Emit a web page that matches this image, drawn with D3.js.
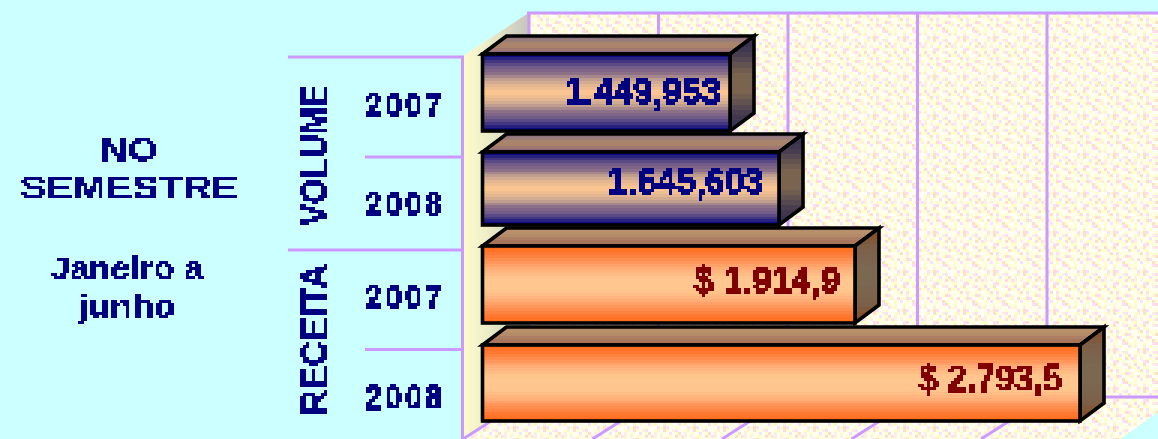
<!DOCTYPE html>
<html><head><meta charset="utf-8">
<script src="https://cdn.jsdelivr.net/npm/d3@7/dist/d3.min.js"></script>
<style>html,body{margin:0;padding:0;background:#ccffff;overflow:hidden}svg{display:block}
text{font-family:"Liberation Sans",Arial,sans-serif;font-weight:bold}</style></head>
<body><svg id="c" width="1158" height="439"></svg>
<script>
const categories=["2007","2008","2007","2008"];
const groups=["VOLUME","VOLUME","RECEITA","RECEITA"];
const values=[1449953,1645603,1914.9,2793.5];
const valueLabels=["1.449,953","1.645,603","$ 1.914,9","$ 2.793,5"];
const gridTicks=[0,1,2,3,4];

const W=1158,H=439,purple="#cc99ff",navy="#000080",maroon="#800000";
const svg=d3.select("#c"),defs=svg.append("defs");

// the chart mixes two measures, each truncated on the shared axis
const xVolume=d3.scaleLinear().domain([1449953,1645603]).range([730,779]);
const xRevenue=d3.scaleLinear().domain([1914.9,2793.5]).range([855,1080]);
const xOf=(v,i)=>groups[i]==="VOLUME"?xVolume(v):xRevenue(v);
const xLeft=482.5,depthX=24,depthY=18;
const y=d3.scaleBand().domain(d3.range(4)).range([53,53+97.4*4]);
const barNudge=[1,1.6,-1.8,-0.2],barHeights=[77,73,77,76];
const xGrid=d3.scaleLinear().domain([0,4]).range([529,1047]);

// dithered wall texture
const tex=["wpywocwwyo","ywwcwypwow","owyywpycow","wcpwywwyyw","ypwwocywpw","wyywwwpyyc","pwcywywwwy","ywowypcyww","wypcwwyowp","cwywpywwyw","wywwcpywyw","wowywwcyow","ypcwwywwwc"];
const texColors={w:"#fffff4",p:"#ffdcd4",y:"#ffffcc",c:"#f9e2f9",o:"#fff0dc"};
const pat=defs.append("pattern").attr("id","tex").attr("patternUnits","userSpaceOnUse")
  .attr("width",30).attr("height",39);
tex.forEach((row,r)=>row.split("").forEach((c,k)=>
  pat.append("rect").attr("x",k*3).attr("y",r*3).attr("width",3).attr("height",3).attr("fill",texColors[c])));

function stepped(id,stops,n){
  const s=d3.scaleLinear().domain(stops.map((_,i)=>i/(stops.length-1))).range(stops);
  const g=defs.append("linearGradient").attr("id",id).attr("x1",0).attr("y1",0).attr("x2",0).attr("y2",1);
  d3.range(n).forEach(i=>{
    const c=s((i+.5)/n);
    g.append("stop").attr("offset",i/n).attr("stop-color",c);
    g.append("stop").attr("offset",(i+1)/n).attr("stop-color",c);
  });
}
stepped("fV",["#000080","#3a3080","#6f5a88","#8c7088","#c4a290","#e8ba90","#ffc890","#e8ba90","#c4a290","#8c7088","#6f5a88","#3a3080","#000080"],26);
stepped("fR",["#ff6a14","#ff7a33","#ff9458","#ffb07a","#ffc48c","#ffc890","#ffc48c","#ffb07a","#ff9458","#ff7a33","#ff6a14"],26);
stepped("sV",["#2c2850","#4a3f50","#7a6450","#7a6450","#4a3f50","#2c2850"],18);
stepped("sR",["#8a4620","#7c6048","#7a6850","#7a6850","#7c6048","#8a4620"],18);
stepped("tV",["#8a7085","#9a7c78","#b08868","#a07870","#7a6088"],6);
stepped("tR",["#b88f6c","#b8906c","#a87860","#a87050"],6);
const side=defs.append("linearGradient").attr("id","wallL").attr("gradientUnits","userSpaceOnUse")
  .attr("x1",463).attr("x2",530).attr("y1",0).attr("y2",0);
[[0,"#fffccc"],[.35,"#eeeec8"],[1,"#c4c4bc"]].forEach(d=>side.append("stop").attr("offset",d[0]).attr("stop-color",d[1]));

// bitmap-like text: sample on a 3px grid, dilate back, harden the edge
const f=defs.append("filter").attr("id","hard").attr("filterUnits","userSpaceOnUse")
  .attr("primitiveUnits","userSpaceOnUse").attr("x",0).attr("y",0).attr("width",W).attr("height",H);
f.append("feFlood").attr("x",1).attr("y",1).attr("width",1).attr("height",1).attr("flood-color","#000");
f.append("feComposite").attr("width",3).attr("height",3);
f.append("feTile").attr("result","grid");
f.append("feComposite").attr("in","SourceGraphic").attr("in2","grid").attr("operator","in");
f.append("feMorphology").attr("operator","dilate").attr("radius",1).attr("result","m");
f.append("feComponentTransfer").attr("in","m").append("feFuncA").attr("type","discrete").attr("tableValues","0 1 1 1");

// wall, floor, side
svg.append("path").attr("d","M530,12H1158V396H530Z").attr("fill","url(#tex)");
svg.append("path").attr("d","M463,439L530,396H1158V412L1120,439Z").attr("fill","url(#tex)");
svg.append("path").attr("d","M463,56L530,12V396L463,439Z").attr("fill","url(#wallL)");

// grid
const grid=svg.append("g").attr("stroke",purple).attr("stroke-width",3).attr("fill","none");
grid.append("line").attr("x1",527).attr("x2",W).attr("y1",13).attr("y2",13);
grid.append("line").attr("x1",530).attr("x2",W).attr("y1",397).attr("y2",397);
grid.selectAll(".v").data(gridTicks).join("line").attr("class","v")
  .attr("x1",d=>xGrid(d)).attr("x2",d=>xGrid(d)).attr("y1",13).attr("y2",397);
grid.selectAll(".d").data(gridTicks).join("line").attr("class","d")
  .attr("x1",d=>xGrid(d)).attr("x2",d=>xGrid(d)-66).attr("y1",397).attr("y2",439);

// panel rules
const rules=svg.append("g").attr("stroke",purple).attr("stroke-width",3);
rules.append("line").attr("x1",288).attr("x2",464).attr("y1",57).attr("y2",57);
rules.append("line").attr("x1",288).attr("x2",464).attr("y1",250).attr("y2",250);
rules.append("line").attr("x1",365).attr("x2",464).attr("y1",157).attr("y2",157);
rules.append("line").attr("x1",365).attr("x2",464).attr("y1",349.5).attr("y2",349.5);
rules.append("line").attr("x1",462.5).attr("x2",462.5).attr("y1",56).attr("y2",H);

// bars
const barTop=i=>y(i)+barNudge[i];
svg.append("g").selectAll("g").data(values).join("g").each(function(v,i){
  const g=d3.select(this),x1=xOf(v,i),y0=barTop(i),y1=y0+barHeights[i],k=groups[i]==="VOLUME"?"V":"R";
  const style=s=>s.attr("stroke","#000").attr("stroke-width",3.6);
  style(g.append("path").attr("d",`M${xLeft},${y0}L${xLeft+depthX},${y0-depthY}H${x1+depthX}L${x1},${y0}Z`).attr("fill",`url(#t${k})`));
  style(g.append("path").attr("d",`M${x1},${y0}L${x1+depthX},${y0-depthY}V${y1-depthY}L${x1},${y1}Z`).attr("fill",`url(#s${k})`));
  style(g.append("rect").attr("x",xLeft).attr("y",y0).attr("width",x1-xLeft).attr("height",barHeights[i]).attr("fill",`url(#f${k})`));
});

// value labels
const labelInset=[9,15,15,18],labelWidth=[156,156,146,143],labelBaseline=[104,194,293,391];
svg.append("g").attr("filter","url(#hard)").selectAll("text").data(values).join("text")
  .attr("x",(v,i)=>xOf(v,i)-labelInset[i]-labelWidth[i]).attr("y",(v,i)=>labelBaseline[i])
  .attr("textLength",(v,i)=>labelWidth[i]).attr("lengthAdjust","spacingAndGlyphs")
  .attr("font-size",36).attr("stroke-width",.7).attr("stroke",(v,i)=>i<2?navy:maroon)
  .attr("fill",(v,i)=>i<2?navy:maroon).text((v,i)=>valueLabels[i]);

// year labels: narrowed glyphs with open spacing
const yearBaseline=[117,216,309,409],yearSqueeze=.82;
svg.append("g").attr("filter","url(#hard)").selectAll("text").data(categories).join("text")
  .attr("transform",(d,i)=>`translate(365,${yearBaseline[i]}) scale(${yearSqueeze},1)`)
  .attr("textLength",77/yearSqueeze).attr("lengthAdjust","spacing").attr("font-size",36)
  .attr("stroke",navy).attr("stroke-width",.5).attr("fill",navy).text(d=>d);

// group labels
const groupNames=["VOLUME","RECEITA"],groupSpan=[[85,226],[264,415]];
svg.append("g").attr("filter","url(#hard)").selectAll("text").data(groupNames).join("text")
  .attr("transform",(d,i)=>`translate(327,${groupSpan[i][1]}) rotate(-90)`)
  .attr("textLength",(d,i)=>groupSpan[i][1]-groupSpan[i][0]).attr("lengthAdjust","spacingAndGlyphs")
  .attr("font-size",36).attr("fill",navy).text(d=>d);

// left caption
const caption=[["NO",129,161,33,58],["SEMESTRE",129,199,33,218],["Janeiro a",127,279,31,153],["junho",127,317,31,97]];
svg.append("g").attr("filter","url(#hard)").selectAll("text").data(caption).join("text")
  .attr("x",d=>d[1]-d[4]/2).attr("y",d=>d[2]).attr("font-size",d=>d[3])
  .attr("textLength",d=>d[4]).attr("lengthAdjust","spacingAndGlyphs").attr("fill",navy).text(d=>d[0]);
</script></body></html>
